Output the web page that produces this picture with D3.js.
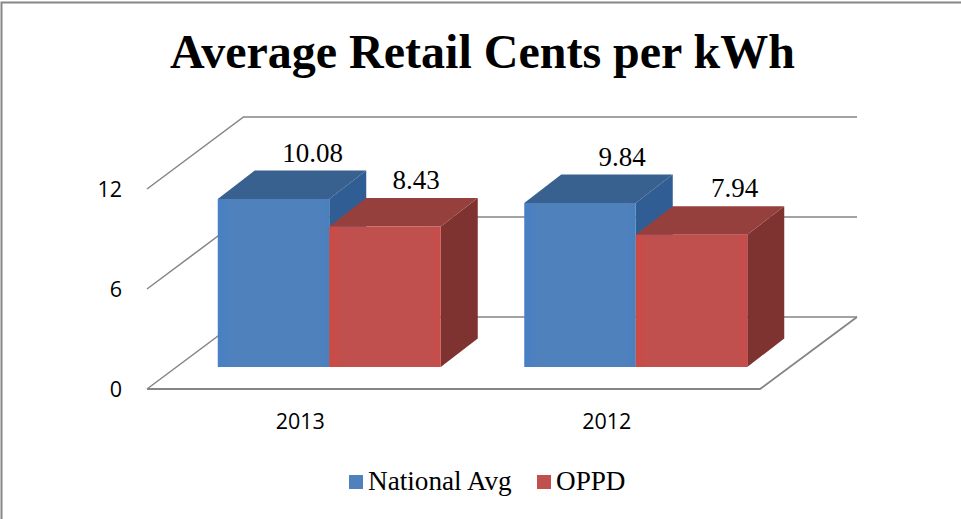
<!DOCTYPE html>
<html><head><meta charset="utf-8">
<script src="https://cdn.jsdelivr.net/npm/d3@7"></script>
<style>html,body{margin:0;padding:0;background:#fff}svg{display:block}</style>
</head><body><svg id="c" width="961" height="519"></svg>
<script>
const titleText = "Average Retail Cents per kWh";
const categories = ["2013", "2012"];
const seriesNames = ["National Avg", "OPPD"];
const nationalAvg = [10.08, 9.84];
const oppd = [8.43, 7.94];
const valueLabels = [["10.08", "9.84"], ["8.43", "7.94"]];
const yTicks = [0, 6, 12];

const serif = "'Liberation Serif', serif", sans = "'Open Sans', sans-serif";
const svg = d3.select("#c");
const frontColors = ["#4f81bd", "#c0504d"], topColors = ["#38618f", "#95403c"], sideColors = ["#305d93", "#7f3331"];
const series = [nationalAvg, oppd];

const y = d3.scaleLinear().domain([0, 12]).range([389, 189]);
const x0 = d3.scaleBand().domain(categories).range([147, 760]).paddingInner(0).paddingOuter(0);
const floorDx = 96.5, floorDy = -72;
const barDx = 37, barDy = -28.5, barShiftY = -22;
const groupW = 223;
const x1 = d3.scaleBand().domain(d3.range(2)).range([0, groupW]);

svg.append("path").attr("d", "M1.5,519V2.5H961").attr("fill", "none").attr("stroke", "#868686").attr("stroke-width", 2);

const grid = "#858585";
yTicks.forEach(t => {
  const g = y(t);
  svg.append("path").attr("fill", "none").attr("stroke", grid).attr("stroke-width", 1.5)
    .attr("d", `M147,${g}L${147 + floorDx},${g + floorDy}H857`);
});
svg.append("path").attr("fill", "none").attr("stroke", grid).attr("stroke-width", 1.8)
  .attr("d", `M147,${y(0)}H760L857,${y(0) + floorDy}`);

const yAxis = d3.axisLeft(y).tickValues(yTicks).tickSize(0).tickPadding(0);
const ax = svg.append("g").attr("transform", "translate(122,0)").call(yAxis);
ax.select(".domain").remove();
ax.selectAll("text").attr("font-family", sans).attr("font-size", 21.5).attr("fill", "#000").attr("dy", "0.36em");

const xAxis = d3.axisBottom(x0).tickSize(0).tickPadding(0);
const bx = svg.append("g").attr("transform", "translate(0,413)").call(xAxis);
bx.select(".domain").remove();
bx.selectAll("text").attr("font-family", sans).attr("font-size", 21.5).attr("fill", "#000").attr("dy", "0.76em");

const defs = svg.append("defs");
series.forEach((_, s) => {
  const lg = defs.append("linearGradient").attr("id", "front" + s);
  const c = d3.color(frontColors[s]);
  lg.append("stop").attr("offset", "0").attr("stop-color", s ? "#cb4a45" : "#4880c4");
  lg.append("stop").attr("offset", ".12").attr("stop-color", c.formatHex());
  lg.append("stop").attr("offset", ".9").attr("stop-color", c.formatHex());
  lg.append("stop").attr("offset", "1").attr("stop-color", s ? "#c84c4a" : "#4a80be");
});

const base = y(0) + barShiftY;
const nudge = [[2, 5], [-6, 6]];
categories.forEach((cat, i) => {
  const gx = x0(cat) + x0.bandwidth() / 2 - 82.5;
  series.forEach((vals, s) => {
    const v = vals[i];
    const left = gx + x1(s), w = x1.bandwidth();
    const top = base + (y(v) - y(0));
    const g = svg.append("g");
    g.append("path").attr("fill", sideColors[s])
      .attr("d", `M${left + w},${top}l${barDx},${barDy}V${base + barDy}L${left + w},${base}Z`);
    g.append("path").attr("fill", topColors[s])
      .attr("d", `M${left},${top}l${barDx},${barDy}h${w}l${-barDx},${-barDy}Z`);
    g.append("rect").attr("x", left).attr("y", top).attr("width", w).attr("height", base - top)
      .attr("fill", `url(#front${s})`);
  });
  series.forEach((vals, s) => {
    const top = base + (y(vals[i]) - y(0));
    svg.append("text").attr("x", gx + x1(s) + x1.bandwidth() / 2 + barDx + nudge[s][i]).attr("y", top + barDy - 9)
      .attr("text-anchor", "middle").attr("font-family", serif).attr("font-size", 27).attr("fill", "#000")
      .text(valueLabels[s][i]);
  });
});

svg.append("text").attr("x", 482.5).attr("y", 68).attr("text-anchor", "middle")
  .attr("font-family", serif).attr("font-weight", "bold").attr("font-size", 48).attr("fill", "#000").text(titleText);

const legendX = d3.scaleOrdinal().domain(seriesNames).range([349, 537]);
seriesNames.forEach((n, s) => {
  svg.append("rect").attr("x", legendX(n)).attr("y", 475).attr("width", 14).attr("height", 14).attr("fill", frontColors[s]);
  svg.append("text").attr("x", legendX(n) + 19).attr("y", 490).attr("font-family", serif).attr("font-size", 27.2).attr("fill", "#000").text(n);
});
</script></body></html>
